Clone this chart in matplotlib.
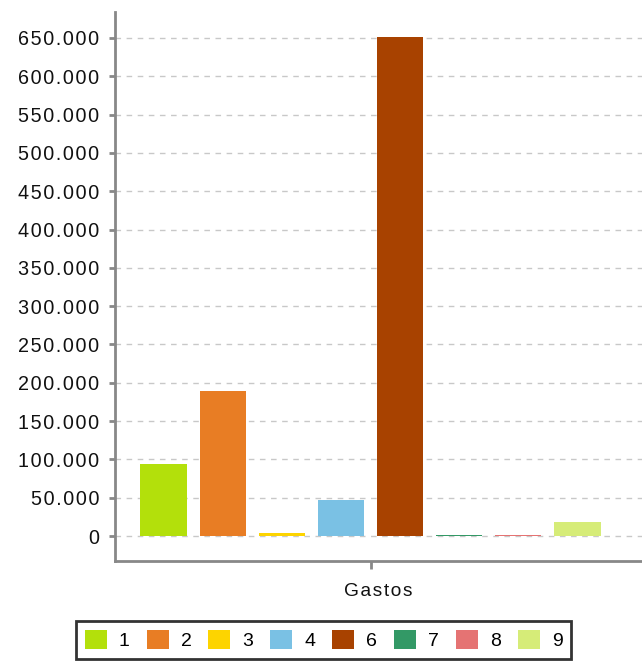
import matplotlib.pyplot as plt
from matplotlib.ticker import FuncFormatter, MultipleLocator
from matplotlib.patches import Patch

plt.rcParams['font.family'] = ['Liberation Sans', 'DejaVu Sans']

# series shown in the chart (one category, "Gastos")
labels = ['1', '2', '3', '4', '6', '7', '8', '9']
values = [94000, 189000, 3800, 47000, 651000, 900, 900, 18000]
colors = ['#b3e00b', '#e87d24', '#fdd400', '#7ac1e4', '#a84200', '#339966', '#e57373', '#d6ec78']
category = 'Gastos'

HS = '\u200a'  # hair space, to widen the letter spacing a bit


def spaced(s):
    return HS.join(s)


W, H = 642, 662
fig = plt.figure(figsize=(W / 100, H / 100), dpi=100)
ax = fig.add_axes([115 / W, (H - 561) / H, (W - 115) / W, (561 - 12) / H])

n = len(values)
for i, (v, c) in enumerate(zip(values, colors)):
    ax.bar(i - (n - 1) / 2, v, width=0.78, color=c, zorder=3)

ax.set_xlim(-4.32, 4.59)
ax.set_ylim(-32600, 683900)
ax.yaxis.set_major_locator(MultipleLocator(50000))
ax.yaxis.set_major_formatter(FuncFormatter(lambda v, p: spaced(f'{int(v):,}'.replace(',', '.'))))
ax.set_xticks([0])
ax.set_xticklabels([''])
ax.set_xlabel(spaced(category), fontsize=13.8, color='#111111', labelpad=10)

ax.grid(axis='y', color='#c8c8c8', linestyle=(0, (4, 4)), linewidth=1, zorder=0)
for s in ['top', 'right']:
    ax.spines[s].set_visible(False)
for s in ['left', 'bottom']:
    ax.spines[s].set_color('#888888')
    ax.spines[s].set_linewidth(2)
ax.tick_params(axis='y', colors='#888888', length=4.3, width=2, labelcolor='#111111', labelsize=14.2, pad=7)
ax.tick_params(axis='x', colors='#888888', length=6, width=2, pad=0)

handles = [Patch(facecolor=c, edgecolor='none') for c in colors]
leg = fig.legend(handles, labels, loc='upper left', bbox_to_anchor=(76 / W, 1 - 621 / H),
                 ncol=n, frameon=True, fontsize=14, handlelength=1.13, handleheight=1.13,
                 columnspacing=0.87, handletextpad=0.62, borderpad=0.45, borderaxespad=0,
                 fancybox=False)
leg.get_frame().set_edgecolor('black')
leg.get_frame().set_linewidth(2)

fig.savefig('out.png', dpi=100)
